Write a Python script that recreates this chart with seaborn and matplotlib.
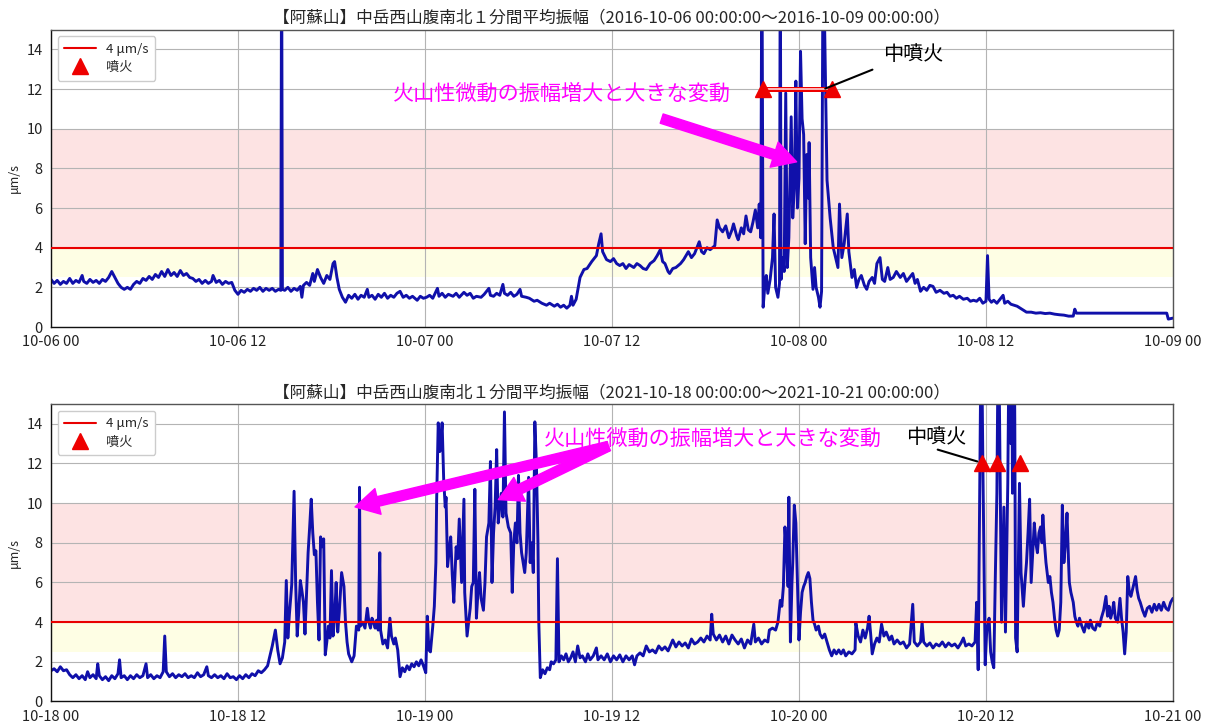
import matplotlib
matplotlib.use("Agg")
import matplotlib.pyplot as plt
import matplotlib.dates as mdates
import pandas as pd
import seaborn as sns

# ---------------- data (hours from start, amplitude in um/s) ----------------
hours_2016 = [
    0.0, 0.2, 0.4, 0.6, 0.8, 1.0, 1.2, 1.4, 1.6, 1.8,
    2.0, 2.1, 2.3, 2.5, 2.7, 2.9, 3.1, 3.3, 3.5, 3.7,
    3.9, 4.1, 4.3, 4.5, 4.7, 4.9, 5.1, 5.3, 5.5, 5.7,
    5.9, 6.1, 6.3, 6.5, 6.7, 6.9, 7.1, 7.3, 7.5, 7.7,
    7.9, 8.1, 8.3, 8.5, 8.7, 8.9, 9.1, 9.3, 9.5, 9.7,
    9.9, 10.1, 10.3, 10.4, 10.6, 10.8, 11.0, 11.2, 11.4, 11.6,
    11.8, 12.0, 12.2, 12.4, 12.6, 12.8, 13.0, 13.2, 13.4, 13.6,
    13.8, 14.0, 14.2, 14.4, 14.6, 14.75, 14.8, 14.85, 15.0, 15.2,
    15.4, 15.6, 15.8, 16.0, 16.1, 16.2, 16.4, 16.6, 16.8, 16.9,
    17.1, 17.3, 17.5, 17.7, 17.9, 18.1, 18.2, 18.35, 18.5, 18.7,
    18.9, 19.1, 19.3, 19.5, 19.7, 19.9, 20.1, 20.3, 20.4, 20.6,
    20.8, 21.0, 21.2, 21.4, 21.6, 21.8, 22.0, 22.2, 22.4, 22.6,
    22.8, 23.0, 23.2, 23.5, 23.7, 23.9, 24.1, 24.3, 24.5, 24.8,
    24.9, 25.1, 25.3, 25.5, 25.8, 26.0, 26.2, 26.5, 26.7, 26.9,
    27.1, 27.3, 27.6, 27.8, 28.1, 28.2, 28.4, 28.6, 28.8, 29.0,
    29.1, 29.3, 29.5, 29.7, 29.9, 30.1, 30.2, 30.5, 30.7, 31.0,
    31.2, 31.5, 31.8, 32.0, 32.3, 32.5, 32.7, 32.9, 33.1, 33.3,
    33.4, 33.5, 33.7, 33.95, 34.2, 34.4, 34.7, 35.0, 35.15, 35.3,
    35.4, 35.65, 35.9, 36.1, 36.3, 36.5, 36.7, 36.9, 37.1, 37.4,
    37.6, 37.8, 38.0, 38.2, 38.45, 38.7, 38.9, 39.1, 39.25, 39.4,
    39.6, 39.7, 39.9, 40.1, 40.4, 40.6, 40.9, 41.1, 41.3, 41.6,
    41.75, 41.9, 42.1, 42.3, 42.6, 42.75, 42.9, 43.1, 43.3, 43.5,
    43.7, 43.8, 44.0, 44.1, 44.3, 44.45, 44.6, 44.75, 44.9, 45.05,
    45.2, 45.35, 45.45, 45.55, 45.62, 45.7, 45.8, 45.9, 46.0, 46.15,
    46.3, 46.4, 46.5, 46.65, 46.75, 46.8, 46.85, 46.95, 47.05, 47.15,
    47.25, 47.35, 47.5, 47.6, 47.7, 47.8, 47.9, 48.0, 48.1, 48.2,
    48.3, 48.4, 48.5, 48.6, 48.65, 48.75, 48.9, 49.0, 49.1, 49.25,
    49.35, 49.45, 49.55, 49.8, 50.0, 50.2, 50.5, 50.6, 50.75, 50.9,
    51.1, 51.2, 51.4, 51.55, 51.7, 51.85, 52.0, 52.2, 52.35, 52.5,
    52.7, 52.85, 53.0, 53.2, 53.35, 53.5, 53.7, 53.85, 54.05, 54.25,
    54.5, 54.7, 54.9, 55.1, 55.3, 55.45, 55.6, 55.8, 56.0, 56.2,
    56.4, 56.6, 56.8, 57.05, 57.3, 57.5, 57.7, 57.9, 58.1, 58.3,
    58.55, 58.8, 59.0, 59.2, 59.4, 59.6, 59.8, 60.0, 60.1, 60.2,
    60.35, 60.5, 60.7, 60.9, 61.1, 61.2, 61.4, 61.6, 61.8, 62.0,
    62.2, 62.4, 62.6, 62.9, 63.2, 63.5, 63.8, 64.1, 64.4, 64.7,
    65.0, 65.3, 65.6, 65.7, 65.8, 71.6, 71.7, 72.0,
]
amp_2016 = [
    2.4, 2.2, 2.35, 2.15, 2.3, 2.2, 2.45, 2.2, 2.35, 2.25,
    2.6, 2.3, 2.2, 2.4, 2.25, 2.35, 2.2, 2.4, 2.3, 2.5,
    2.8, 2.5, 2.2, 2.0, 1.9, 2.0, 1.9, 2.15, 2.3, 2.2,
    2.45, 2.35, 2.55, 2.4, 2.65, 2.5, 2.8, 2.55, 2.9, 2.6,
    2.75, 2.55, 2.85, 2.6, 2.7, 2.5, 2.45, 2.3, 2.4, 2.2,
    2.35, 2.2, 2.3, 2.6, 2.25, 2.35, 2.15, 2.3, 2.2, 2.25,
    1.85, 1.65, 1.85, 1.75, 1.9, 1.8, 1.95, 1.85, 2.0, 1.8,
    1.95, 1.85, 1.95, 1.8, 1.9, 1.85, 20, 1.9, 1.85, 2.0,
    1.8, 1.95, 1.85, 2.05, 1.5, 2.1, 2.25, 2.1, 2.7, 2.3,
    2.9, 2.5, 2.2, 2.6, 2.4, 3.2, 3.3, 2.5, 1.9, 1.5,
    1.25, 1.6, 1.45, 1.65, 1.4, 1.6, 1.5, 1.9, 1.5, 1.6,
    1.4, 1.65, 1.5, 1.7, 1.45, 1.6, 1.5, 1.7, 1.8, 1.5,
    1.6, 1.45, 1.55, 1.35, 1.55, 1.45, 1.5, 1.6, 1.45, 1.95,
    1.55, 1.7, 1.5, 1.65, 1.55, 1.7, 1.5, 1.75, 1.6, 1.7,
    1.45, 1.55, 1.5, 1.65, 1.95, 1.6, 1.55, 1.7, 1.6, 2.15,
    1.7, 1.6, 1.75, 1.55, 1.65, 1.9, 1.55, 1.5, 1.45, 1.3,
    1.35, 1.2, 1.1, 1.2, 1.05, 1.15, 1.0, 1.1, 0.95, 1.1,
    1.55, 1.1, 1.4, 2.5, 2.9, 2.95, 3.3, 3.6, 4.2, 4.7,
    3.8, 3.4, 3.3, 3.45, 3.2, 3.1, 3.2, 2.95, 3.15, 3.0,
    3.2, 3.1, 2.95, 2.9, 3.2, 3.35, 3.6, 3.9, 3.3, 3.2,
    2.8, 2.7, 2.95, 3.0, 3.2, 3.4, 3.8, 3.5, 3.7, 4.3,
    3.8, 3.7, 4.0, 3.9, 4.1, 5.4, 5.0, 4.8, 5.1, 4.5,
    4.9, 5.2, 4.6, 4.4, 5.0, 4.7, 5.6, 4.9, 4.8, 5.3,
    5.9, 5.0, 6.2, 4.5, 20, 1.0, 2.0, 2.6, 1.7, 2.4,
    3.5, 5.7, 2.0, 1.5, 2.2, 20, 2.4, 3.5, 2.8, 11.8,
    3.0, 4.5, 10.6, 5.5, 7.0, 12.4, 6.0, 7.5, 13.9, 10.5,
    9.7, 4.2, 8.7, 6.5, 9.3, 3.5, 1.9, 3.0, 2.0, 1.5,
    1.0, 1.8, 20, 7.4, 5.5, 4.0, 3.0, 6.2, 3.5, 4.2,
    5.7, 3.8, 2.5, 2.9, 2.0, 2.4, 2.6, 2.1, 1.9, 2.3,
    2.5, 2.2, 3.2, 3.5, 2.4, 2.3, 3.0, 2.4, 2.5, 2.8,
    2.5, 2.7, 2.3, 2.5, 2.7, 2.2, 2.4, 1.8, 2.0, 1.85,
    2.1, 2.05, 1.75, 1.85, 1.7, 1.75, 1.55, 1.6, 1.45, 1.55,
    1.4, 1.45, 1.3, 1.35, 1.3, 1.45, 1.2, 1.3, 3.6, 1.4,
    1.25, 1.35, 1.2, 1.4, 1.6, 1.2, 1.3, 1.15, 1.1, 1.05,
    0.95, 0.85, 0.75, 0.75, 0.7, 0.72, 0.68, 0.7, 0.65, 0.62,
    0.6, 0.55, 0.55, 0.9, 0.7, 0.7, 0.4, 0.45,
]

hours_2021 = [
    0.0, 0.2, 0.4, 0.6, 0.8, 1.0, 1.2, 1.4, 1.6, 1.8,
    2.0, 2.2, 2.35, 2.5, 2.7, 2.9, 3.0, 3.1, 3.3, 3.5,
    3.7, 3.9, 4.1, 4.3, 4.4, 4.5, 4.7, 4.9, 5.1, 5.3,
    5.5, 5.7, 5.9, 6.1, 6.2, 6.4, 6.6, 6.8, 7.0, 7.2,
    7.3, 7.4, 7.6, 7.8, 8.0, 8.2, 8.4, 8.6, 8.8, 9.0,
    9.2, 9.4, 9.6, 9.8, 10.0, 10.1, 10.3, 10.5, 10.7, 10.9,
    11.1, 11.3, 11.5, 11.7, 11.9, 12.1, 12.3, 12.5, 12.7, 12.9,
    13.1, 13.3, 13.5, 13.7, 13.9, 14.05, 14.2, 14.4, 14.55, 14.7,
    14.85, 15.0, 15.1, 15.2, 15.3, 15.45, 15.6, 15.7, 15.8, 15.9,
    16.0, 16.1, 16.2, 16.3, 16.4, 16.5, 16.6, 16.7, 16.8, 16.9,
    17.0, 17.1, 17.2, 17.3, 17.4, 17.5, 17.6, 17.7, 17.8, 17.9,
    18.0, 18.1, 18.2, 18.3, 18.4, 18.5, 18.65, 18.8, 18.9, 19.0,
    19.1, 19.3, 19.45, 19.6, 19.75, 19.8, 19.85, 20.0, 20.15, 20.3,
    20.4, 20.5, 20.6, 20.7, 20.8, 20.9, 21.0, 21.1, 21.15, 21.3,
    21.45, 21.6, 21.75, 21.85, 22.0, 22.1, 22.25, 22.4, 22.55, 22.7,
    22.85, 23.0, 23.15, 23.3, 23.45, 23.6, 23.75, 23.9, 24.05, 24.15,
    24.25, 24.35, 24.5, 24.6, 24.7, 24.75, 24.85, 24.95, 25.05, 25.1,
    25.2, 25.3, 25.35, 25.45, 25.55, 25.65, 25.75, 25.85, 26.0, 26.1,
    26.2, 26.3, 26.35, 26.5, 26.55, 26.7, 26.8, 26.9, 27.0, 27.1,
    27.2, 27.3, 27.4, 27.5, 27.6, 27.75, 27.85, 27.95, 28.1, 28.2,
    28.3, 28.4, 28.5, 28.6, 28.7, 28.8, 28.9, 29.0, 29.1, 29.2,
    29.35, 29.5, 29.6, 29.7, 29.8, 29.9, 30.0, 30.1, 30.2, 30.3,
    30.4, 30.5, 30.65, 30.75, 30.85, 30.95, 31.05, 31.15, 31.25, 31.3,
    31.4, 31.55, 31.7, 31.85, 32.0, 32.1, 32.25, 32.4, 32.5, 32.6,
    32.75, 32.9, 33.05, 33.2, 33.35, 33.5, 33.65, 33.8, 33.95, 34.1,
    34.3, 34.45, 34.6, 34.8, 35.0, 35.1, 35.3, 35.5, 35.7, 35.9,
    36.1, 36.3, 36.5, 36.7, 36.9, 37.1, 37.3, 37.45, 37.6, 37.8,
    38.0, 38.2, 38.4, 38.6, 38.8, 39.0, 39.2, 39.4, 39.6, 39.9,
    40.1, 40.3, 40.5, 40.7, 40.9, 41.1, 41.3, 41.5, 41.7, 41.9,
    42.1, 42.3, 42.4, 42.5, 42.7, 42.9, 43.1, 43.3, 43.5, 43.7,
    43.9, 44.1, 44.3, 44.5, 44.7, 44.9, 45.1, 45.2, 45.4, 45.6,
    45.8, 46.0, 46.1, 46.3, 46.5, 46.65, 46.8, 46.9, 47.0, 47.1,
    47.2, 47.3, 47.35, 47.45, 47.55, 47.6, 47.7, 47.8, 47.9, 48.0,
    48.1, 48.2, 48.3, 48.4, 48.5, 48.6, 48.7, 48.8, 48.9, 49.0,
    49.1, 49.25, 49.35, 49.5, 49.65, 49.8, 49.95, 50.1, 50.25, 50.4,
    50.55, 50.7, 50.85, 51.0, 51.2, 51.4, 51.6, 51.65, 51.8, 51.95,
    52.1, 52.25, 52.4, 52.5, 52.6, 52.7, 52.85, 53.0, 53.15, 53.3,
    53.45, 53.6, 53.8, 53.95, 54.1, 54.3, 54.5, 54.7, 54.9, 55.1,
    55.3, 55.4, 55.6, 55.8, 55.9, 56.0, 56.2, 56.4, 56.6, 56.8,
    57.0, 57.2, 57.4, 57.6, 57.8, 58.0, 58.2, 58.4, 58.55, 58.7,
    58.9, 59.1, 59.3, 59.4, 59.5, 59.6, 59.7, 59.8, 59.9, 59.95,
    60.05, 60.2, 60.3, 60.4, 60.5, 60.6, 60.7, 60.8, 60.9, 61.0,
    61.15, 61.25, 61.4, 61.5, 61.6, 61.65, 61.7, 61.8, 61.85, 61.9,
    62.0, 62.15, 62.25, 62.4, 62.5, 62.6, 62.7, 62.8, 62.9, 63.0,
    63.1, 63.2, 63.3, 63.4, 63.5, 63.6, 63.65, 63.75, 63.85, 64.0,
    64.1, 64.2, 64.3, 64.4, 64.5, 64.6, 64.7, 64.8, 64.9, 65.0,
    65.1, 65.2, 65.3, 65.35, 65.45, 65.6, 65.7, 65.8, 65.9, 66.0,
    66.15, 66.3, 66.45, 66.6, 66.7, 66.85, 67.0, 67.15, 67.3, 67.4,
    67.55, 67.7, 67.8, 67.9, 68.0, 68.1, 68.2, 68.3, 68.45, 68.55,
    68.6, 68.7, 68.8, 68.9, 69.0, 69.1, 69.2, 69.3, 69.45, 69.6,
    69.7, 69.8, 69.9, 70.05, 70.2, 70.35, 70.5, 70.65, 70.8, 70.95,
    71.1, 71.25, 71.4, 71.55, 71.7, 71.85, 72.0,
]
amp_2021 = [
    1.55, 1.65, 1.5, 1.75, 1.55, 1.6, 1.35, 1.2, 1.35, 1.15,
    1.3, 1.1, 1.5, 1.2, 1.35, 1.15, 1.9, 1.3, 1.1, 1.25,
    1.05, 1.3, 1.15, 1.4, 2.1, 1.2, 1.3, 1.1, 1.3, 1.15,
    1.35, 1.2, 1.3, 1.9, 1.2, 1.35, 1.15, 1.3, 1.2, 1.5,
    3.3, 1.5, 1.25, 1.4, 1.2, 1.35, 1.25, 1.4, 1.2, 1.3,
    1.2, 1.45, 1.25, 1.35, 1.75, 1.3, 1.2, 1.35, 1.2, 1.3,
    1.15, 1.4, 1.2, 1.25, 1.1, 1.3, 1.15, 1.35, 1.2, 1.4,
    1.3, 1.55, 1.45, 1.6, 1.8, 2.3, 2.8, 3.6, 2.6, 1.9,
    2.2, 3.0, 6.1, 3.2, 4.4, 5.9, 10.6, 6.0, 3.3, 4.5,
    6.1, 5.6, 5.0, 3.4, 5.5, 7.5, 8.8, 10.2, 8.5, 7.4,
    7.6, 5.0, 3.1, 8.3, 7.8, 8.2, 2.35, 3.0, 3.8, 3.2,
    6.6, 3.3, 4.2, 6.0, 3.5, 4.5, 6.5, 5.8, 4.0, 3.0,
    2.4, 2.0, 2.3, 3.8, 3.6, 10.8, 3.8, 4.0, 3.7, 4.7,
    4.0, 3.7, 4.2, 4.0, 3.7, 4.1, 3.6, 7.5, 3.6, 2.9,
    3.1, 2.7, 4.2, 3.3, 2.9, 3.2, 2.6, 1.25, 1.7, 1.5,
    1.8, 1.6, 1.9, 1.75, 2.0, 1.8, 2.1, 1.8, 1.45, 4.3,
    2.6, 2.5, 3.8, 4.8, 7.0, 10.2, 14.05, 12.6, 13.5, 14.05,
    11.2, 9.8, 10.3, 6.8, 7.6, 8.3, 6.4, 5.0, 7.8, 7.2,
    9.2, 7.0, 6.0, 10.2, 5.5, 3.3, 4.0, 4.7, 5.8, 6.0,
    10.7, 4.2, 5.5, 6.5, 5.2, 4.6, 6.0, 8.3, 9.0, 12.1,
    6.0, 8.5, 9.8, 12.7, 9.0, 9.8, 10.5, 9.3, 14.6, 9.5,
    8.8, 8.5, 5.5, 8.0, 9.0, 8.0, 11.4, 8.5, 7.5, 7.0,
    6.5, 7.5, 11.3, 7.0, 8.0, 6.5, 14.1, 12.0, 8.0, 4.1,
    1.2, 1.6, 1.4, 1.7, 1.6, 2.0, 1.9, 2.1, 7.2, 2.0,
    2.3, 2.1, 2.4, 2.0, 2.2, 2.5, 2.0, 2.8, 2.2, 2.3,
    2.0, 2.4, 2.1, 2.3, 2.7, 2.1, 2.3, 2.1, 2.4, 2.0,
    2.3, 2.1, 2.35, 2.0, 2.3, 2.1, 2.3, 1.85, 2.3, 2.45,
    2.3, 2.8, 2.5, 2.6, 2.45, 2.8, 2.6, 2.75, 2.55, 3.1,
    2.75, 3.0, 2.8, 2.95, 2.7, 3.15, 2.9, 3.0, 3.2, 3.0,
    3.3, 3.1, 4.4, 3.4, 3.1, 3.35, 3.0, 3.3, 2.9, 3.35,
    3.1, 2.9, 3.15, 2.7, 3.1, 2.9, 3.9, 3.0, 3.2, 2.9,
    3.1, 3.0, 3.6, 3.7, 3.6, 4.0, 5.1, 4.8, 5.8, 8.8,
    7.5, 5.8, 10.3, 3.0, 6.0, 7.0, 9.9, 9.0, 6.0, 3.1,
    4.5, 5.5, 5.8, 6.0, 6.3, 6.5, 6.2, 5.0, 4.1, 3.9,
    3.6, 3.8, 3.4, 3.2, 3.4, 3.0, 2.6, 2.3, 2.6, 2.4,
    2.6, 2.4, 2.6, 2.3, 2.5, 2.4, 2.6, 3.95, 3.3, 3.0,
    3.6, 3.2, 3.7, 4.3, 3.4, 2.4, 2.9, 3.2, 3.0, 3.9,
    3.3, 3.5, 3.1, 3.3, 2.9, 3.1, 2.9, 3.0, 2.7, 2.9,
    4.9, 3.0, 2.8, 3.0, 4.0, 3.0, 2.8, 2.95, 2.7, 2.9,
    2.8, 3.0, 2.75, 2.95, 2.8, 2.9, 2.7, 2.95, 3.2, 2.8,
    2.9, 2.8, 3.0, 5.0, 1.6, 10.5, 20, 12.0, 5.0, 1.85,
    3.6, 4.2, 2.5, 2.0, 1.7, 6.3, 10.5, 20, 12.0, 4.0,
    9.8, 3.5, 11.0, 20, 13.0, 20, 10.5, 20, 14.0, 3.2,
    2.5, 11.0, 6.5, 4.8, 6.0, 7.0, 8.5, 10.2, 6.0, 7.5,
    9.0, 8.0, 7.5, 8.5, 8.8, 8.0, 9.4, 8.0, 7.0, 6.0,
    6.3, 5.5, 5.0, 4.2, 3.6, 3.3, 3.6, 5.0, 9.9, 7.0,
    8.0, 9.5, 7.0, 6.0, 5.5, 5.0, 4.3, 4.0, 3.8, 4.2,
    3.8, 3.5, 4.0, 3.7, 4.1, 3.7, 3.6, 4.0, 3.8, 4.2,
    4.6, 5.3, 4.3, 4.8, 4.2, 4.5, 5.0, 4.2, 4.0, 4.8,
    5.2, 4.2, 3.5, 2.4, 3.5, 6.3, 5.5, 5.3, 5.8, 6.3,
    5.6, 5.2, 5.0, 4.6, 4.3, 4.7, 4.8, 4.5, 4.9, 4.6,
    4.9, 4.6, 5.0, 4.7, 4.6, 5.0, 5.2,
]

eruption_hours_2016 = [45.7, 50.1]
eruption_hours_2021 = [59.72, 60.68, 62.18]
eruption_level = 12
threshold = 4
pink_band = (4, 10)
yellow_band = (2.5, 4)

titles = [
    "【阿蘇山】中岳西山腹南北１分間平均振幅（2016-10-06 00:00:00～2016-10-09 00:00:00）",
    "【阿蘇山】中岳西山腹南北１分間平均振幅（2021-10-18 00:00:00～2021-10-21 00:00:00）",
]
starts = ["2016-10-06 00:00", "2021-10-18 00:00"]
note_text = "火山性微動の振幅増大と大きな変動"
eruption_text = "中噴火"
legend_labels = ["4 μm/s", "噴火"]

# ---------------- style ----------------
sns.set_style("white")
plt.rcParams["font.family"] = ["Noto Sans CJK JP", "DejaVu Sans"]
plt.rcParams["axes.unicode_minus"] = False

LINE_C = "#1010aa"
RED = "#e80000"
MAG = "#ff00ff"

fig = plt.figure(figsize=(12.11, 7.24), dpi=100)
ax_top = fig.add_axes([0.0421, 0.5483, 0.9265, 0.4109])
ax_bot = fig.add_axes([0.0421, 0.0311, 0.9265, 0.4109])


def draw_panel(ax, start, hours, amps, erupt_hours, title):
    t0 = pd.Timestamp(start)
    df = pd.DataFrame({
        "time": t0 + pd.to_timedelta(hours, unit="h"),
        "amp": amps,
    })

    def T(h):
        return mdates.date2num(t0 + pd.Timedelta(hours=h))

    ax.axhspan(*pink_band, color="#fde3e3", zorder=0.1, lw=0)
    ax.axhspan(*yellow_band, color="#fefee4", zorder=0.1, lw=0)
    ax.set_axisbelow(True)
    ax.grid(True, color="#b4b4b4", lw=0.8)

    sns.lineplot(data=df, x="time", y="amp", ax=ax, color=LINE_C, lw=2.1,
                 estimator=None, sort=False, zorder=2)

    ax.axhline(threshold, color=RED, lw=1.5, zorder=3, label=legend_labels[0])
    ex = [T(h) for h in erupt_hours]
    ax.plot(ex, [eruption_level] * len(ex), ls="none", marker="^", ms=11.5,
            color="#ee0000", zorder=5, label=legend_labels[1])

    ax.set_xlim(T(0), T(72))
    ax.set_ylim(0, 15)
    ax.set_yticks(range(0, 15, 2))
    ax.xaxis.set_major_locator(mdates.HourLocator(byhour=[0, 12]))
    ax.xaxis.set_major_formatter(mdates.DateFormatter("%m-%d %H"))
    ax.tick_params(axis="both", labelsize=10.5, length=3.5, width=0.8,
                   colors="#222222", direction="out", pad=2.5)
    ax.set_xlabel("")
    ax.set_ylabel("μm/s", fontsize=9, labelpad=4)
    ax.set_title(title, fontsize=12, pad=5)
    for s in ["left", "bottom"]:
        ax.spines[s].set_color("#111111")
        ax.spines[s].set_linewidth(1.0)
    for s in ["top", "right"]:
        ax.spines[s].set_color("#555555")
        ax.spines[s].set_linewidth(1.0)

    ax.legend(loc="upper left", fontsize=9.5, frameon=True, framealpha=1,
              edgecolor="#cccccc", handlelength=2.4, borderpad=0.5,
              labelspacing=0.4, borderaxespad=0.5)
    return T


T1 = draw_panel(ax_top, starts[0], hours_2016, amp_2016, eruption_hours_2016, titles[0])
T2 = draw_panel(ax_bot, starts[1], hours_2021, amp_2021, eruption_hours_2021, titles[1])

# ---- annotations: top panel ----
ex1 = [T1(h) for h in eruption_hours_2016]
ax_top.plot(ex1, [eruption_level] * 2, color="#ee0000", lw=3.6, zorder=4,
            solid_capstyle="butt")
ax_top.plot(ex1, [eruption_level] * 2, color="#ffd6d6", lw=1.2, zorder=4.1,
            solid_capstyle="butt")
arrow_kw = dict(facecolor=MAG, edgecolor=MAG, width=7, headwidth=19,
                headlength=17, shrink=0)
ax_top.text(T1(21.93), 11.77, note_text, color=MAG, fontsize=15.2,
            va="center", ha="left", zorder=6)
ax_top.annotate("", xy=(T1(47.85), 8.33), xytext=(T1(39.19), 10.51),
                arrowprops=arrow_kw, zorder=6)
ax_top.text(T1(53.37), 13.75, eruption_text, color="black", fontsize=14.5,
            va="center", ha="left", zorder=6)
ax_top.annotate("", xy=(T1(49.52), 11.97), xytext=(T1(52.88), 13.03),
                arrowprops=dict(arrowstyle="-", color="black", lw=1.5), zorder=6)

# ---- annotations: bottom panel ----
ax_bot.text(T2(31.64), 13.24, note_text, color=MAG, fontsize=15.2,
            va="center", ha="left", zorder=6)
ax_bot.annotate("", xy=(T2(19.51), 9.81), xytext=(T2(35.77), 12.87),
                arrowprops=arrow_kw, zorder=6)
ax_bot.annotate("", xy=(T2(28.71), 10.18), xytext=(T2(35.77), 12.87),
                arrowprops=arrow_kw, zorder=6)
ax_bot.text(T2(54.9), 13.29, eruption_text, color="black", fontsize=14.5,
            va="center", ha="left", zorder=6)
ax_bot.annotate("", xy=(T2(59.62), 12.06), xytext=(T2(56.73), 12.74),
                arrowprops=dict(arrowstyle="-", color="black", lw=1.5), zorder=6)

fig.savefig("out.png", dpi=100)
